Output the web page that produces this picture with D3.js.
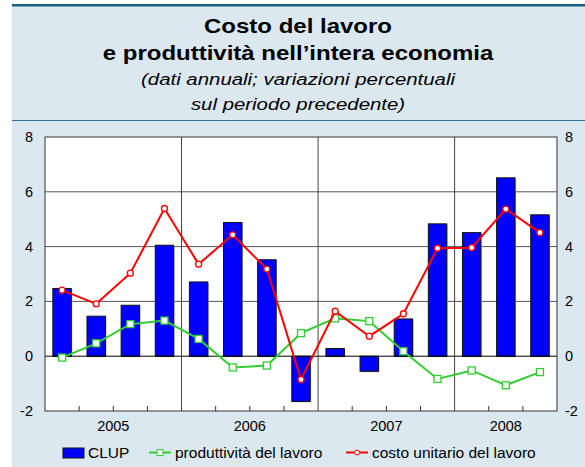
<!doctype html>
<html>
<head>
<script src="https://cdnjs.cloudflare.com/ajax/libs/d3/7.8.5/d3.min.js"></script>
<style>
body { margin: 0; background: #fff; }
svg { display: block; font-family: "Liberation Sans", Arial, sans-serif; }
</style>
</head>
<body>
<svg id="chart" width="585" height="467"></svg>
<script>
// quarterly data 2005 Q1 - 2008 Q3
var quarters = ["2005T1","2005T2","2005T3","2005T4","2006T1","2006T2","2006T3","2006T4",
                "2007T1","2007T2","2007T3","2007T4","2008T1","2008T2","2008T3"];
var years = ["2005", "2006", "2007", "2008"];
var clup = [2.47, 1.46, 1.86, 4.05, 2.71, 4.88, 3.52, -1.65, 0.28, -0.55, 1.36, 4.83, 4.51, 6.51, 5.16];
var produttivita = [-0.05, 0.47, 1.17, 1.30, 0.63, -0.41, -0.34, 0.84, 1.38, 1.28, 0.18, -0.83, -0.52, -1.06, -0.58];
var costoUnitario = [2.41, 1.91, 3.03, 5.39, 3.36, 4.43, 3.18, -0.85, 1.64, 0.73, 1.55, 3.94, 3.96, 5.37, 4.51];
var yTicks = [-2, 0, 2, 4, 6, 8];

var svg = d3.select("#chart");
var W = 585, H = 467;
var m = {left: 45, right: 28, top: 137, bottom: 56};

// panel background
svg.append("rect").attr("x", 12).attr("y", 5).attr("width", W - 12).attr("height", H - 5).attr("fill", "#dce8ef");
svg.append("rect").attr("x", 12).attr("y", 4).attr("width", W - 12).attr("height", 2.5).attr("fill", "#1b5e80");
svg.append("line").attr("x1", 12).attr("x2", W).attr("y1", 120.5).attr("y2", 120.5)
  .attr("stroke", "#2f7199").attr("stroke-width", 1.2);

// titles (the original lettering is a bit stretched horizontally)
var cx = 298;
function title(txt, ty, size, bold, italic) {
  svg.append("text").attr("transform", "translate(" + cx + "," + ty + ") scale(1.2,1)")
    .attr("text-anchor", "middle").attr("font-size", size)
    .attr("font-weight", bold ? "bold" : "normal")
    .attr("font-style", italic ? "italic" : "normal").text(txt);
}
title("Costo del lavoro", 33, 20, true, false);
title("e produttività nell’intera economia", 60, 20, true, false);
title("(dati annuali; variazioni percentuali", 85, 17, false, true);
title("sul periodo precedente)", 110, 17, false, true);

var x0 = m.left, x1 = 557, y0 = 411, y1 = m.top;
var x = d3.scaleBand().domain(quarters).range([x0, x1]).paddingInner(0.46).paddingOuter(0.23);
var y = d3.scaleLinear().domain([-2, 8]).range([y0, y1]);
var step = x.step();
var xc = function(i) { return x(quarters[i]) + x.bandwidth() / 2; };

svg.append("rect").attr("x", x0).attr("y", y1).attr("width", x1 - x0).attr("height", y0 - y1)
  .attr("fill", "#fff");

// horizontal grid
svg.append("g").selectAll("line").data(yTicks.filter(function(d){ return d > -2 && d < 8 && d !== 0; }))
  .enter().append("line")
  .attr("x1", x0).attr("x2", x1).attr("y1", function(d){ return y(d); }).attr("y2", function(d){ return y(d); })
  .attr("stroke", "#555").attr("stroke-width", 1);

// year separators
var yearBounds = [4, 8, 12];
svg.append("g").selectAll("line").data(yearBounds).enter().append("line")
  .attr("x1", function(d){ return x0 + d * step; }).attr("x2", function(d){ return x0 + d * step; })
  .attr("y1", y1).attr("y2", y0).attr("stroke", "#444").attr("stroke-width", 1);

// bars (with a faint grey shadow like the original)
svg.append("g").selectAll("rect").data(clup).enter().append("rect")
  .attr("x", function(d, i){ return x(quarters[i]) + 1; })
  .attr("width", x.bandwidth())
  .attr("y", function(d){ return y(Math.max(0, d)) + 1; })
  .attr("height", function(d){ return Math.abs(y(d) - y(0)); })
  .attr("fill", "#b8b8b8");
svg.append("g").selectAll("rect").data(clup).enter().append("rect")
  .attr("x", function(d, i){ return x(quarters[i]); })
  .attr("width", x.bandwidth())
  .attr("y", function(d){ return y(Math.max(0, d)); })
  .attr("height", function(d){ return Math.abs(y(d) - y(0)); })
  .attr("fill", "#0000ff").attr("stroke", "#111").attr("stroke-width", 1);

// zero line
svg.append("line").attr("x1", x0).attr("x2", x1).attr("y1", y(0)).attr("y2", y(0))
  .attr("stroke", "#000").attr("stroke-width", 1);

// frame
svg.append("rect").attr("x", x0).attr("y", y1).attr("width", x1 - x0).attr("height", y0 - y1)
  .attr("fill", "none").attr("stroke", "#333").attr("stroke-width", 1);

// quarter ticks
var qt = d3.range(1, 15).filter(function(d){ return d % 4 !== 0; });
svg.append("g").selectAll("line").data(qt).enter().append("line")
  .attr("x1", function(d){ return x0 + d * step; }).attr("x2", function(d){ return x0 + d * step; })
  .attr("y1", y0).attr("y2", y0 - 5).attr("stroke", "#333");

// lines
var line = d3.line().x(function(d, i){ return xc(i); }).y(function(d){ return y(d); });
svg.append("path").datum(produttivita).attr("d", line).attr("fill", "none")
  .attr("stroke", "#33cc33").attr("stroke-width", 2);
svg.append("g").selectAll("rect").data(produttivita).enter().append("rect")
  .attr("x", function(d, i){ return xc(i) - 3.5; }).attr("y", function(d){ return y(d) - 3.5; })
  .attr("width", 7).attr("height", 7).attr("fill", "#fff").attr("stroke", "#33cc33").attr("stroke-width", 1.3);

svg.append("path").datum(costoUnitario).attr("d", line).attr("fill", "none")
  .attr("stroke", "#ff0000").attr("stroke-width", 2);
svg.append("g").selectAll("circle").data(costoUnitario).enter().append("circle")
  .attr("cx", function(d, i){ return xc(i); }).attr("cy", function(d){ return y(d); })
  .attr("r", 3).attr("fill", "#fff").attr("stroke", "#ff0000").attr("stroke-width", 1.3);

// y axis labels
svg.append("g").selectAll("text").data(yTicks).enter().append("text")
  .attr("x", 33).attr("y", function(d){ return y(d) + 5; }).attr("text-anchor", "end")
  .attr("font-size", 14.5).text(function(d){ return d; });
svg.append("g").selectAll("text").data(yTicks).enter().append("text")
  .attr("x", 565).attr("y", function(d){ return y(d) + 5; }).attr("text-anchor", "start")
  .attr("font-size", 14.5).text(function(d){ return d; });

// year labels
svg.append("g").selectAll("text").data(years).enter().append("text")
  .attr("x", function(d, i){
    var n = i < 3 ? 4 : 3;
    return x0 + (i * 4 + n / 2) * step;
  })
  .attr("y", 431).attr("text-anchor", "middle").attr("font-size", 14.5).text(function(d){ return d; });

// legend
var lg = svg.append("g").attr("font-size", 15.5);
lg.append("rect").attr("x", 63).attr("y", 448).attr("width", 21).attr("height", 10)
  .attr("fill", "#0000ff").attr("stroke", "#111");
lg.append("text").attr("x", 88).attr("y", 458).text("CLUP");
lg.append("line").attr("x1", 149).attr("x2", 171).attr("y1", 452.5).attr("y2", 452.5)
  .attr("stroke", "#33cc33").attr("stroke-width", 2);
lg.append("rect").attr("x", 157).attr("y", 449.5).attr("width", 6).attr("height", 6)
  .attr("fill", "#fff").attr("stroke", "#33cc33");
lg.append("text").attr("x", 175).attr("y", 458).text("produttività del lavoro");
lg.append("line").attr("x1", 346).attr("x2", 368).attr("y1", 452.5).attr("y2", 452.5)
  .attr("stroke", "#ff0000").attr("stroke-width", 2);
lg.append("circle").attr("cx", 357).attr("cy", 452.5).attr("r", 2.5)
  .attr("fill", "#fff").attr("stroke", "#ff0000");
lg.append("text").attr("x", 372).attr("y", 458).text("costo unitario del lavoro");
</script>
</body>
</html>
